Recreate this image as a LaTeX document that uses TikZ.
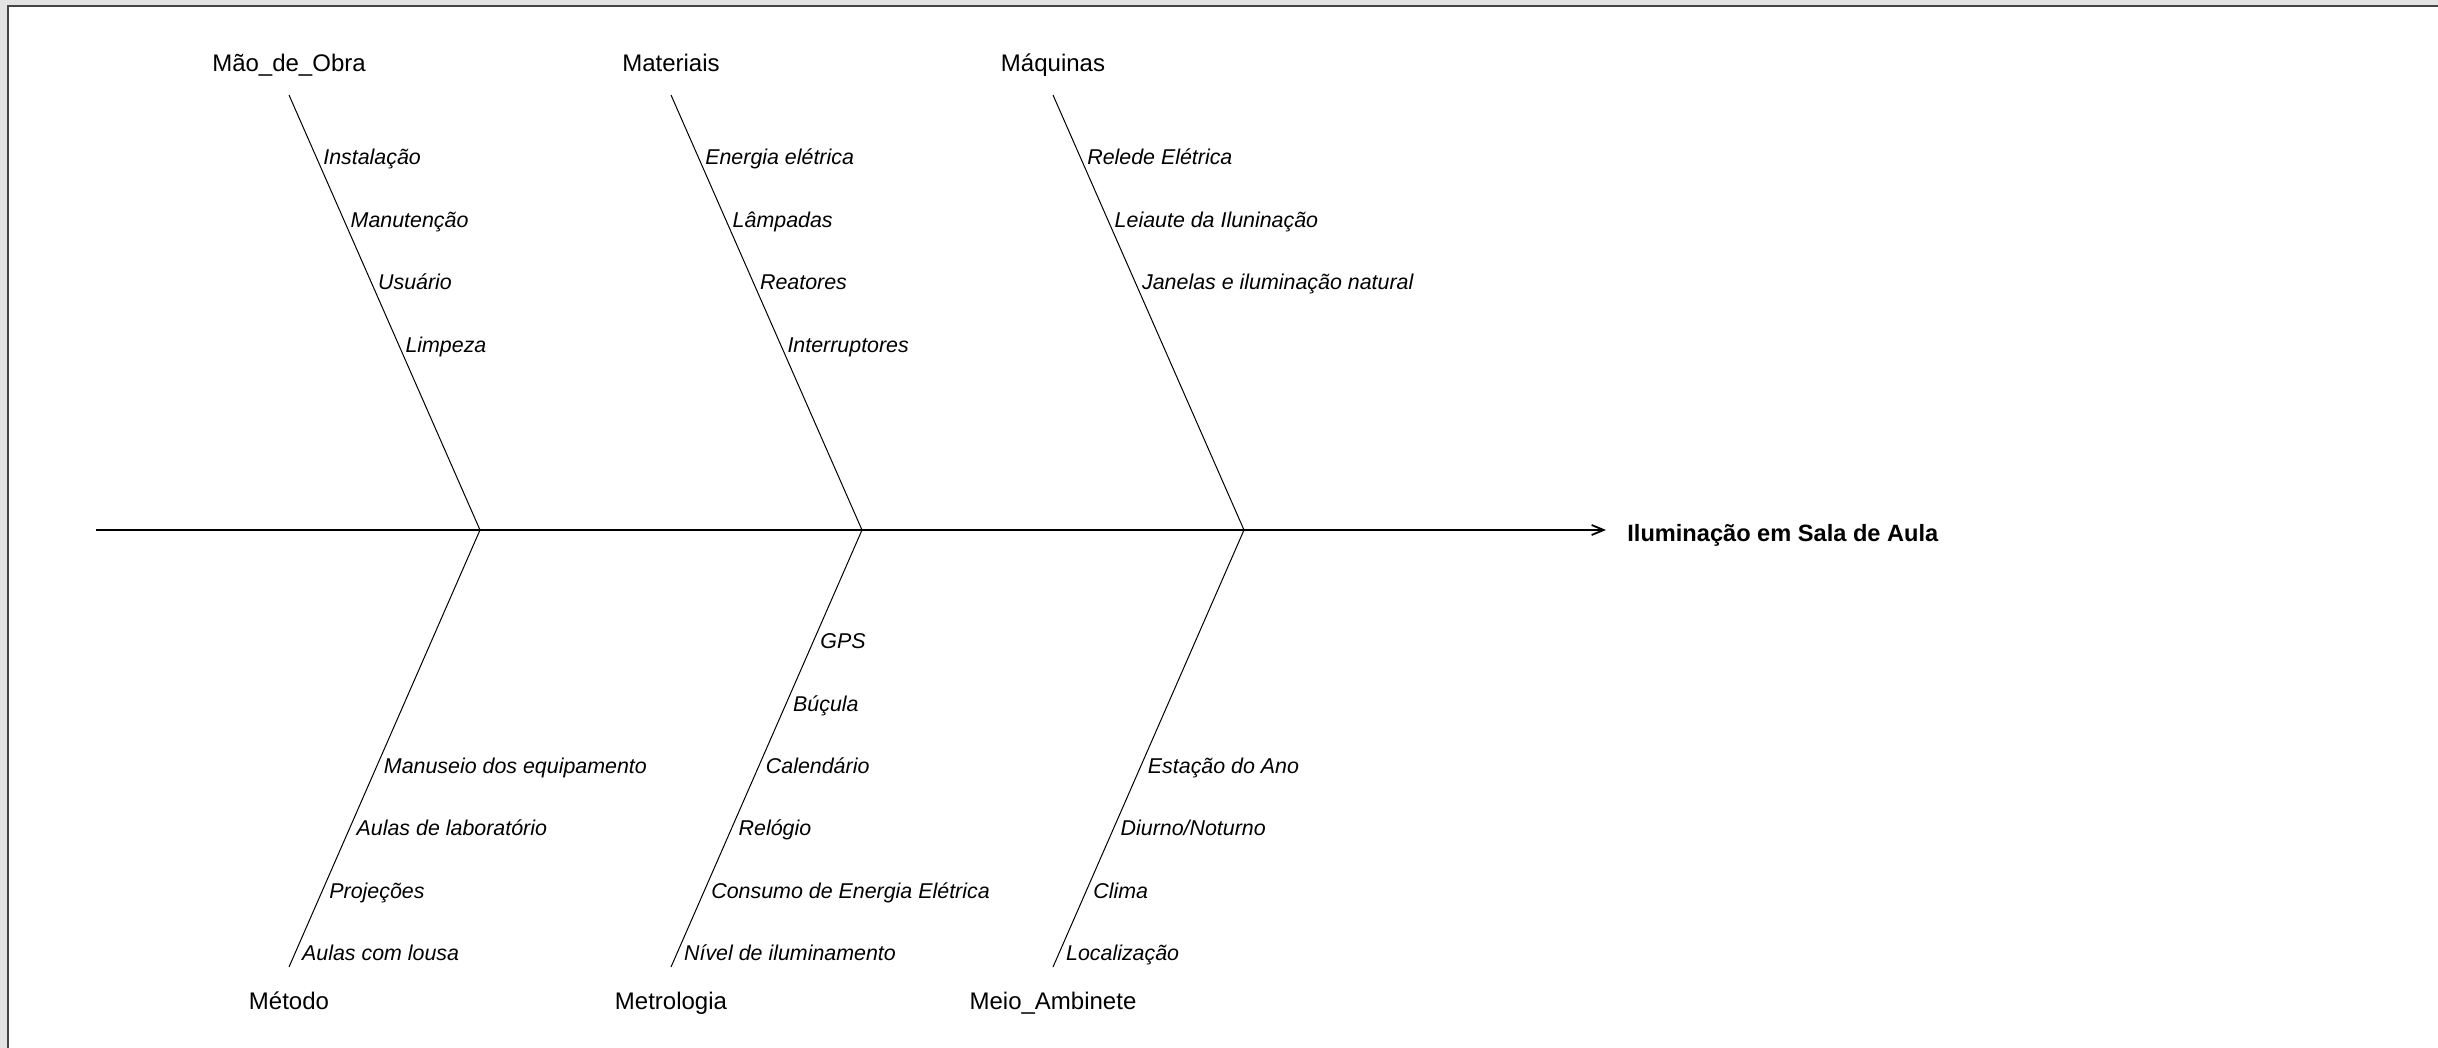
\documentclass[tikz,border=0pt]{standalone}
\usepackage{fontspec}
\setmainfont{Liberation Sans}
\usetikzlibrary{calc,arrows.meta}
\definecolor{winedge}{HTML}{E3E3E3}
\definecolor{framedark}{HTML}{454545}
\begin{document}
\begin{tikzpicture}[x=0.5pt,y=-0.5pt,
  catlabel/.style={font=\fontsize{12}{14}\selectfont, inner sep=0, anchor=base},
  cause/.style={font=\fontsize{10.7}{12}\selectfont\itshape, inner sep=0,
    anchor=base west, xshift=3.3pt, yshift=-3.85pt},
  bone/.style={line width=0.5pt},
  spine/.style={line width=0.9pt, -{Straight Barb[length=6pt,width=5pt]}},
]
% window edge and frame
\fill[winedge] (0,0) rectangle (2438,1048);
\fill[white] (9,7) rectangle (2438,1048);
\fill[framedark] (7,5) rectangle (2438,7);
\fill[framedark] (7,5) rectangle (9,1048);
\useasboundingbox (0,0) rectangle (2438,1048);

% bone end points
\coordinate (mo-top) at (289,95);
\coordinate (ma-top) at (671,95);
\coordinate (mq-top) at (1053,95);
\coordinate (j1) at (480,530);
\coordinate (j2) at (862,530);
\coordinate (j3) at (1244,530);
\coordinate (me-bot) at (289,967);
\coordinate (mt-bot) at (671,967);
\coordinate (mb-bot) at (1053,967);

% spine and effect
\coordinate (tail) at (96,530);
\coordinate (head) at (1606,530);
\draw[spine] (tail) -- (head);
\node[font=\bfseries\fontsize{11.8}{14}\selectfont, inner sep=0, anchor=base west]
  (effect) at (1627,541.5) {Iluminação em Sala de Aula};

% bones
\draw[bone] (mo-top) -- (j1) -- (me-bot);
\draw[bone] (ma-top) -- (j2) -- (mt-bot);
\draw[bone] (mq-top) -- (j3) -- (mb-bot);

% category labels
\node[catlabel] (mao) at ($(mo-top)+(0,-23.5)$) {Mão\_de\_Obra};
\node[catlabel] (mat) at ($(ma-top)+(0,-23.5)$) {Materiais};
\node[catlabel] (maq) at ($(mq-top)+(0,-23.5)$) {Máquinas};
\node[catlabel] (met) at ($(me-bot)+(0,42.5)$) {Método};
\node[catlabel] (metr) at ($(mt-bot)+(0,42.5)$) {Metrologia};
\node[catlabel] (meio) at ($(mb-bot)+(0,42.5)$) {Meio\_Ambinete};

% causes: Mão_de_Obra
\node[cause] (mo1) at ($(mo-top)!0.143!(j1)$) {Instalação};
\node[cause] (mo2) at ($(mo-top)!0.2865!(j1)$) {Manutenção};
\node[cause] (mo3) at ($(mo-top)!0.4299!(j1)$) {Usuário};
\node[cause] (mo4) at ($(mo-top)!0.5733!(j1)$) {Limpeza};

% causes: Materiais
\node[cause] (ma1) at ($(ma-top)!0.143!(j2)$) {Energia elétrica};
\node[cause] (ma2) at ($(ma-top)!0.2865!(j2)$) {Lâmpadas};
\node[cause] (ma3) at ($(ma-top)!0.4299!(j2)$) {Reatores};
\node[cause] (ma4) at ($(ma-top)!0.5733!(j2)$) {Interruptores};

% causes: Máquinas
\node[cause] (mq1) at ($(mq-top)!0.143!(j3)$) {Relede Elétrica};
\node[cause] (mq2) at ($(mq-top)!0.2865!(j3)$) {Leiaute da Iluninação};
\node[cause] (mq3) at ($(mq-top)!0.4299!(j3)$) {Janelas e iluminação natural};

% causes: Método
\node[cause] (me1) at ($(j1)!0.5396!(me-bot)$) {Manuseio dos equipamento};
\node[cause] (me2) at ($(j1)!0.6824!(me-bot)$) {Aulas de laboratório};
\node[cause] (me3) at ($(j1)!0.8252!(me-bot)$) {Projeções};
\node[cause] (me4) at ($(j1)!0.968!(me-bot)$) {Aulas com lousa};

% causes: Metrologia
\node[cause] (mt1) at ($(j2)!0.254!(mt-bot)$) {GPS};
\node[cause] (mt2) at ($(j2)!0.3968!(mt-bot)$) {Búçula};
\node[cause] (mt3) at ($(j2)!0.5396!(mt-bot)$) {Calendário};
\node[cause] (mt4) at ($(j2)!0.6824!(mt-bot)$) {Relógio};
\node[cause] (mt5) at ($(j2)!0.8252!(mt-bot)$) {Consumo de Energia Elétrica};
\node[cause] (mt6) at ($(j2)!0.968!(mt-bot)$) {Nível de iluminamento};

% causes: Meio_Ambinete
\node[cause] (mb1) at ($(j3)!0.5396!(mb-bot)$) {Estação do Ano};
\node[cause] (mb2) at ($(j3)!0.6824!(mb-bot)$) {Diurno/Noturno};
\node[cause] (mb3) at ($(j3)!0.8252!(mb-bot)$) {Clima};
\node[cause] (mb4) at ($(j3)!0.968!(mb-bot)$) {Localização};
\end{tikzpicture}
\end{document}
